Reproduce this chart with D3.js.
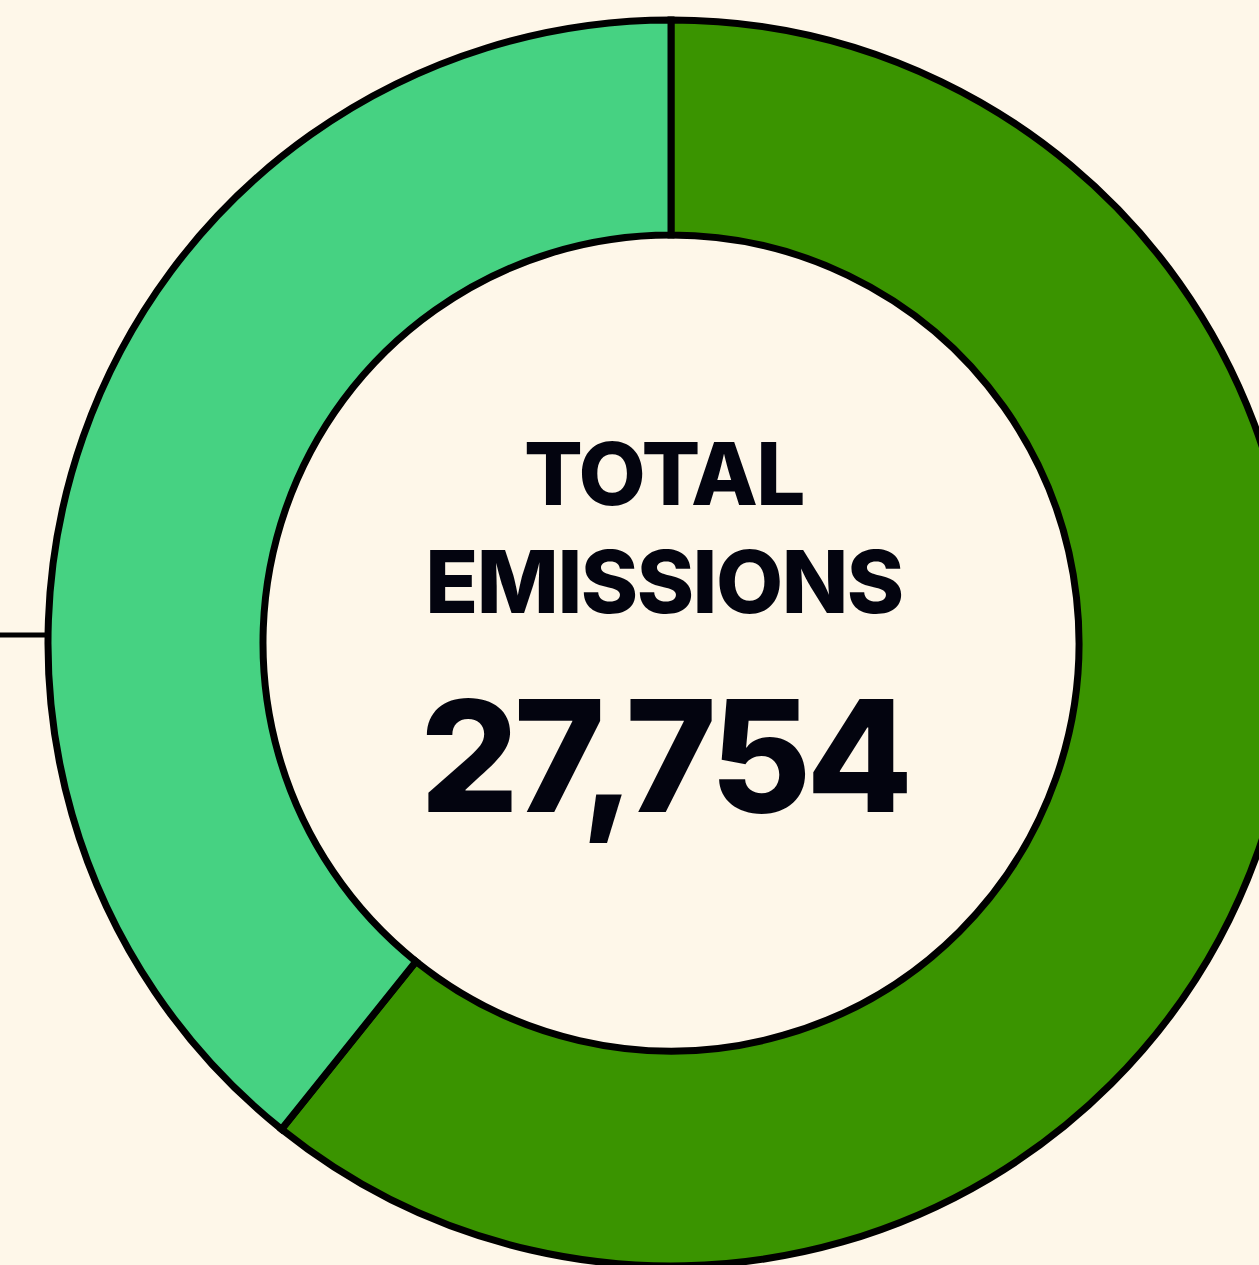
<!DOCTYPE html>
<meta charset="utf-8">
<style>
body { margin: 0; background: #fef7e9; }
svg { display: block; }
.slice { stroke: #000; stroke-width: 7px; stroke-linejoin: miter; }
.label { font-family: Inter, "Open Sans", sans-serif; fill: #03040f; text-anchor: middle; }
</style>
<body>
<div id="plotHere"></div>
<script src="https://cdn.jsdelivr.net/npm/d3@7"></script>
<script>
// data (segment shares estimated from the split angle)
const categories = ["Segment A", "Segment B"];
const values = [16860, 10894];
const colours = ["#3a9400", "#46d282"];
const titleLines = ["TOTAL", "EMISSIONS"];
const totalLabel = "27,754";

const width = 1259, height = 1265;
const cx = 671, cy = 643;
const outerR = 623, innerR = 408;

var svg = d3.select("#plotHere").append("svg")
    .attr("width", width)
    .attr("height", height);

svg.append("rect")
    .attr("width", width).attr("height", height)
    .attr("fill", "#fef7e9");

// leader line off to the left
svg.append("line")
    .attr("x1", 0).attr("x2", cx - outerR)
    .attr("y1", 635).attr("y2", 635)
    .attr("stroke", "#000").attr("stroke-width", 5);

var g = svg.append("g")
    .attr("transform", "translate(" + cx + "," + cy + ")");

var pie = d3.pie().sort(null).value(function(d) { return d; });
var arc = d3.arc().innerRadius(innerR).outerRadius(outerR);

var colour = d3.scaleOrdinal().domain(categories).range(colours);

g.selectAll("path")
    .data(pie(values))
  .enter().append("path")
    .attr("class", "slice")
    .attr("d", arc)
    .attr("fill", function(d, i) { return colour(categories[i]); });

// centre text
g.selectAll("text.title")
    .data(titleLines)
  .enter().append("text")
    .attr("class", "label title")
    .attr("x", -7)
    .attr("y", function(d, i) { return -138 + i * 108; })
    .style("font-size", "87px")
    .style("font-weight", 800)
    .style("letter-spacing", "-1.5px")
    .text(function(d) { return d; });

g.append("text")
    .attr("class", "label")
    .attr("x", -7)
    .attr("y", 169)
    .style("font-size", "155px")
    .style("font-weight", 800)
    .style("letter-spacing", "-5px")
    .text(totalLabel);
</script>
</body>
